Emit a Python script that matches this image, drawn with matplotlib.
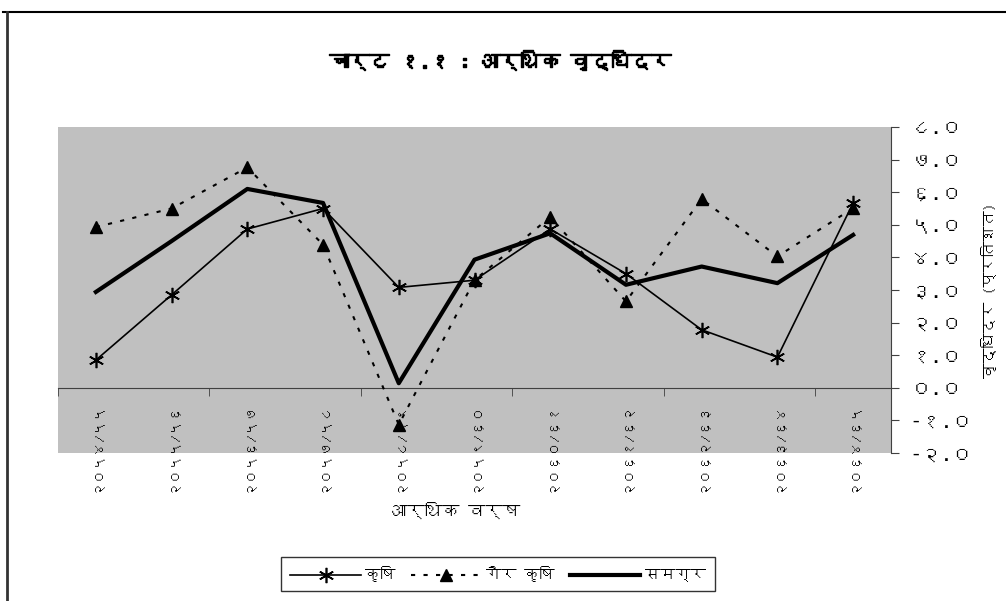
import matplotlib
matplotlib.use("Agg")
import matplotlib.pyplot as plt
import matplotlib.patheffects as pe
from matplotlib import font_manager
from matplotlib.ft2font import FT2Font
from matplotlib.lines import Line2D

years = ["२०५४/५५", "२०५५/५६", "२०५६/५७", "२०५७/५८", "२०५८/५९", "२०५९/६०",
         "२०६०/६१", "२०६१/६२", "२०६२/६३", "२०६३/६४", "२०६४/६५"]
krishi = [0.85, 2.85, 4.87, 5.5, 3.08, 3.3, 4.87, 3.5, 1.78, 0.94, 5.67]
gair_krishi = [4.93, 5.5, 6.76, 4.39, -1.13, 3.3, 5.24, 2.65, 5.79, 4.03, 5.51]
samagra = [2.94, 4.5, 6.1, 5.67, 0.14, 3.93, 4.74, 3.16, 3.72, 3.21, 4.69]
y_ticks = [-2, -1, 0, 1, 2, 3, 4, 5, 6, 7, 8]
y_tick_labels = ["-२.०", "-१.०", "०.०", "१.०", "२.०", "३.०", "४.०", "५.०", "६.०", "७.०", "८.०"]
series_names = ["कृषि", "गैर कृषि", "समग्र"]


def find_devanagari_font():
    for path in sorted(font_manager.findSystemFonts()):
        try:
            cmap = FT2Font(path).get_charmap()
        except Exception:
            continue
        if 0x0915 in cmap and 0x0966 in cmap:
            font_manager.fontManager.addfont(path)
            return font_manager.FontProperties(fname=path).get_name()
    return None


deva = find_devanagari_font()
families = ([deva] if deva else []) + ["DejaVu Sans"]
plt.rcParams["font.family"] = families

fig = plt.figure(figsize=(10.06, 6.01), dpi=100)
ax = fig.add_axes([58 / 1006, 1 - 453 / 601, (891 - 58) / 1006, (453 - 127) / 601])
ax.set_facecolor("#C0C0C0")

x = list(range(len(years)))
ax.plot(x, krishi, color="black", lw=1.2, marker=(6, 2, 0), markersize=11,
        markeredgewidth=1.2, label=series_names[0], zorder=3)
ax.plot(x, gair_krishi, color="black", lw=1.5, linestyle=(0, (2, 4)), marker="^",
        markersize=9, label=series_names[1], zorder=3)
ax.plot(x, samagra, color="black", lw=3, label=series_names[2], zorder=3)

ax.set_xlim(-0.5, len(years) - 0.5)
ax.set_ylim(-2, 8)

# y axis on the right
ax.yaxis.tick_right()
ax.yaxis.set_label_position("right")
ax.set_yticks(y_ticks)
ax.set_yticklabels(y_tick_labels, fontsize=15)
ax.tick_params(axis="y", direction="out", length=6, color="#404040", pad=8)
ax.set_ylabel("वृद्धिदर (प्रतिशत)", fontsize=11, labelpad=6)

# x axis line at zero, category labels below
for s in ["top", "left"]:
    ax.spines[s].set_visible(False)
ax.spines["right"].set_color("#404040")
ax.spines["bottom"].set_position(("data", 0))
ax.spines["bottom"].set_color("#404040")
ax.set_xticks(x)
ax.set_xticklabels(years, rotation=90, fontsize=10, va="top")
ax.set_xticks([-0.5, 1.5, 3.5, 5.5, 7.5, 9.5], minor=True)
ax.tick_params(axis="x", which="major", length=0, pad=10)
ax.tick_params(axis="x", which="minor", direction="out", length=6, color="#404040")

fig.text(455 / 1006, 1 - 510 / 601, "आर्थिक वर्ष", ha="center", va="center", fontsize=12.5)
title = fig.text(500 / 1006, 1 - 60 / 601, "चार्ट १.१ : आर्थिक वृद्धिदर", ha="center",
                 va="center", fontsize=14.5, fontweight="bold")
# font has no bold face, thicken the strokes a bit
title.set_path_effects([pe.withStroke(linewidth=1.0, foreground="black")])

leg = fig.legend(loc="center", bbox_to_anchor=(498 / 1006, 1 - 574 / 601), ncol=3,
                 frameon=True, fancybox=False, edgecolor="black", fontsize=11,
                 handlelength=4.6, columnspacing=1.0, handletextpad=0.3, borderpad=0.6)
leg.get_frame().set_linewidth(1)

# outer frame (top and left edges visible)
fig.add_artist(Line2D([3 / 1006, 1], [1 - 12 / 601, 1 - 12 / 601], color="black", lw=1.5))
fig.add_artist(Line2D([7 / 1006, 7 / 1006], [0, 1 - 12 / 601], color="#333333", lw=2))

fig.savefig("out.png", dpi=100)
